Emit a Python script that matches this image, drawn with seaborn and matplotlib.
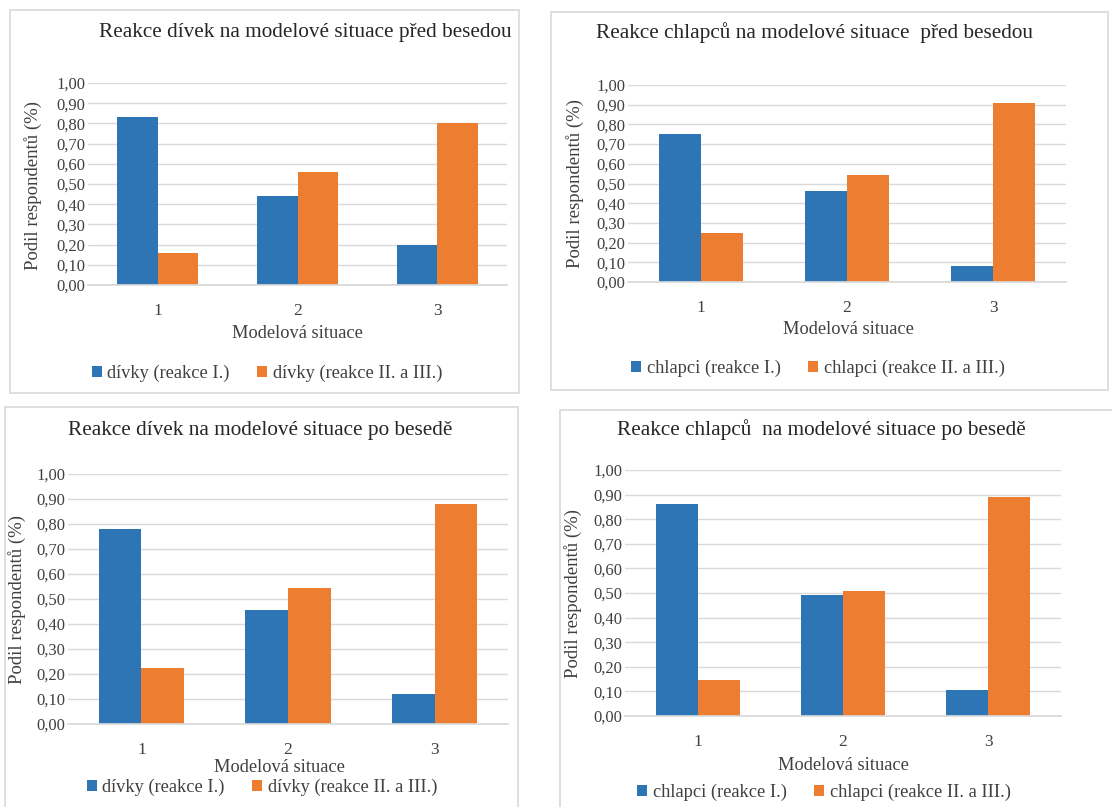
import numpy as np
import pandas as pd
import matplotlib
matplotlib.use("Agg")
import matplotlib.pyplot as plt
from matplotlib.patches import Rectangle
from matplotlib.ticker import FuncFormatter
import seaborn as sns

# data
situace = ["1", "2", "3"]

divky_pred_I = [0.83, 0.44, 0.20]
divky_pred_II = [0.16, 0.56, 0.80]
chlapci_pred_I = [0.75, 0.46, 0.08]
chlapci_pred_II = [0.25, 0.545, 0.91]
divky_po_I = [0.78, 0.455, 0.12]
divky_po_II = [0.225, 0.545, 0.88]
chlapci_po_I = [0.86, 0.49, 0.105]
chlapci_po_II = [0.145, 0.51, 0.89]

titles = [
    "Reakce dívek na modelové situace před besedou",
    "Reakce chlapců na modelové situace  před besedou",
    "Reakce dívek na modelové situace po besedě",
    "Reakce chlapců  na modelové situace po besedě",
]
legend_divky = ["dívky (reakce I.)", "dívky (reakce II. a III.)"]
legend_chlapci = ["chlapci (reakce I.)", "chlapci (reakce II. a III.)"]
yticks = np.arange(0, 1.01, 0.1)

BLUE = "#2E75B6"
ORANGE = "#ED7D31"
TXT = "#404040"
GRID = "#d9d9d9"

sns.set_theme(style="white")
plt.rcParams["font.family"] = ["Liberation Serif", "DejaVu Serif"]

W, H = 1112, 807
fig = plt.figure(figsize=(W / 100, H / 100), dpi=100)
fig.patch.set_facecolor("white")


def fx(x):
    return x / W


def fy(y):
    return 1 - y / H


# layout in pixels: box, axes (l, r, top, bottom), title, xlabel, legend, ylabel
panels = [
    dict(vals=(divky_pred_I, divky_pred_II), names=legend_divky, title=titles[0],
         box=(10, 10, 519, 393), ax=(88, 507, 83, 285), tit=(305, 33),
         xl=(297, 333), leg=(267, 373), yl=(33, 185)),
    dict(vals=(chlapci_pred_I, chlapci_pred_II), names=legend_chlapci, title=titles[1],
         box=(551, 12, 1108, 390), ax=(628, 1066, 85, 282), tit=(815, 33),
         xl=(848, 330), leg=(818, 368), yl=(575, 183)),
    dict(vals=(divky_po_I, divky_po_II), names=legend_divky, title=titles[2],
         box=(5, 407, 518, 812), ax=(68, 508, 474, 724), tit=(260, 430),
         xl=(279, 767), leg=(262, 787), yl=(17, 600)),
    dict(vals=(chlapci_po_I, chlapci_po_II), names=legend_chlapci, title=titles[3],
         box=(560, 410, 1118, 812), ax=(625, 1061, 470, 716), tit=(821, 430),
         xl=(843, 765), leg=(824, 792), yl=(573, 593)),
]

for p in panels:
    bx0, by0, bx1, by1 = p["box"]
    fig.patches.append(Rectangle((fx(bx0), fy(by1)), fx(bx1 - bx0), (by1 - by0) / H,
                                 transform=fig.transFigure, fill=False,
                                 edgecolor=GRID, linewidth=1.2))

    l, r, t, b = p["ax"]
    ax = fig.add_axes([fx(l), fy(b), fx(r - l), (b - t) / H])

    df = pd.DataFrame({
        "situace": situace * 2,
        "podil": list(p["vals"][0]) + list(p["vals"][1]),
        "reakce": [p["names"][0]] * 3 + [p["names"][1]] * 3,
    })
    sns.barplot(data=df, x="situace", y="podil", hue="reakce",
                palette=[BLUE, ORANGE], width=0.58, saturation=1,
                ax=ax, linewidth=0)

    ax.set_ylim(0, 1.0)
    ax.set_xlim(-0.5, 2.5)
    ax.set_yticks(yticks)
    ax.yaxis.set_major_formatter(FuncFormatter(lambda v, _: f"{v:.2f}".replace(".", ",")))
    ax.grid(axis="y", color=GRID, linewidth=1)
    ax.set_axisbelow(True)
    for s in ["top", "right", "left"]:
        ax.spines[s].set_visible(False)
    ax.spines["bottom"].set_color(GRID)
    ax.tick_params(axis="both", length=0, labelsize=12, colors=TXT)
    ax.tick_params(axis="x", pad=13, labelsize=12.5)
    ax.tick_params(axis="y", pad=2)
    ax.set_xlabel("")
    ax.set_ylabel("")

    handles, labels = ax.get_legend_handles_labels()
    ax.get_legend().remove()

    fig.text(fx(p["tit"][0]), fy(p["tit"][1]), p["title"], ha="center", va="center",
             fontsize=15.3, color="#262626")
    fig.text(fx(p["xl"][0]), fy(p["xl"][1]), "Modelová situace", ha="center", va="center",
             fontsize=13.2, color=TXT)
    fig.text(fx(p["yl"][0]), fy(p["yl"][1]), "Podil respondentů (%)", ha="center",
             va="center", rotation=90, fontsize=13.5, color=TXT)
    fig.legend(handles, labels, loc="center", bbox_to_anchor=(fx(p["leg"][0]), fy(p["leg"][1])),
               ncol=2, frameon=False, fontsize=13.2, handlelength=0.55, handleheight=0.55,
               handletextpad=0.3, columnspacing=1.5, labelcolor=TXT)

fig.savefig("out.png", dpi=100, facecolor="white")
